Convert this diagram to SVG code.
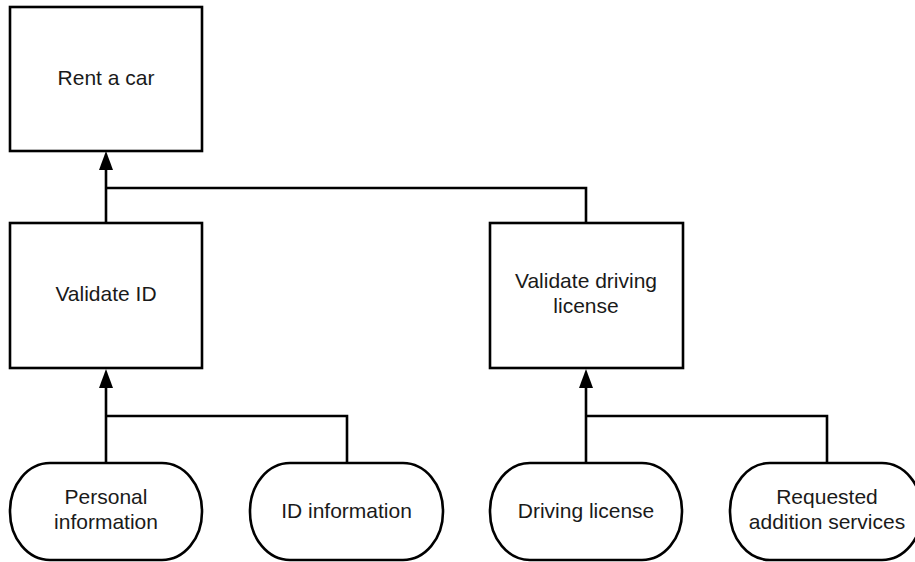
<svg xmlns="http://www.w3.org/2000/svg" width="915" height="562" viewBox="0 0 915 562">
<style>
.box{fill:#fff;stroke:#000;stroke-width:2.6}
.lbl{font-family:"Liberation Sans",Arial,sans-serif;font-size:21px;fill:#1a1a1a;text-anchor:middle}
.con{fill:none;stroke:#000;stroke-width:2.6}
.head{fill:#000}
</style>
<rect width="915" height="562" fill="#fff"/>
<g id="connectors">
<path class="con" d="M106,222 V165 M106,188 H586 V222"/>
<path class="head" d="M106,151 L113,170 L99,170 Z"/>
<path class="con" d="M106,384 V462 M106,416 H347 V462"/>
<path class="head" d="M106,369 L113,388 L99,388 Z"/>
<path class="con" d="M586,384 V462 M586,416 H827 V462"/>
<path class="head" d="M586,369 L593,388 L579,388 Z"/>
</g>
<g id="rent">
<rect class="box" x="10" y="7" width="192" height="144"/>
<text class="lbl" x="106" y="85">Rent a car</text>
</g>
<g id="validate-id">
<rect class="box" x="10" y="223" width="192" height="145"/>
<text class="lbl" x="106" y="301">Validate ID</text>
</g>
<g id="validate-dl">
<rect class="box" x="490" y="223" width="193" height="145"/>
<text class="lbl" x="586" y="288">Validate driving</text>
<text class="lbl" x="586" y="313">license</text>
</g>
<g id="personal">
<rect class="box" x="10" y="463" width="192" height="97" rx="40" ry="48"/>
<text class="lbl" x="106" y="504">Personal</text>
<text class="lbl" x="106" y="529">information</text>
</g>
<g id="idinfo">
<rect class="box" x="250" y="463" width="193" height="97" rx="40" ry="48"/>
<text class="lbl" x="346.5" y="518">ID information</text>
</g>
<g id="driving">
<rect class="box" x="490" y="463" width="192" height="97" rx="40" ry="48"/>
<text class="lbl" x="586" y="518">Driving license</text>
</g>
<g id="requested">
<rect class="box" x="730" y="463" width="192" height="97" rx="40" ry="48"/>
<text class="lbl" x="827" y="504">Requested</text>
<text class="lbl" x="827" y="529">addition services</text>
</g>
</svg>
